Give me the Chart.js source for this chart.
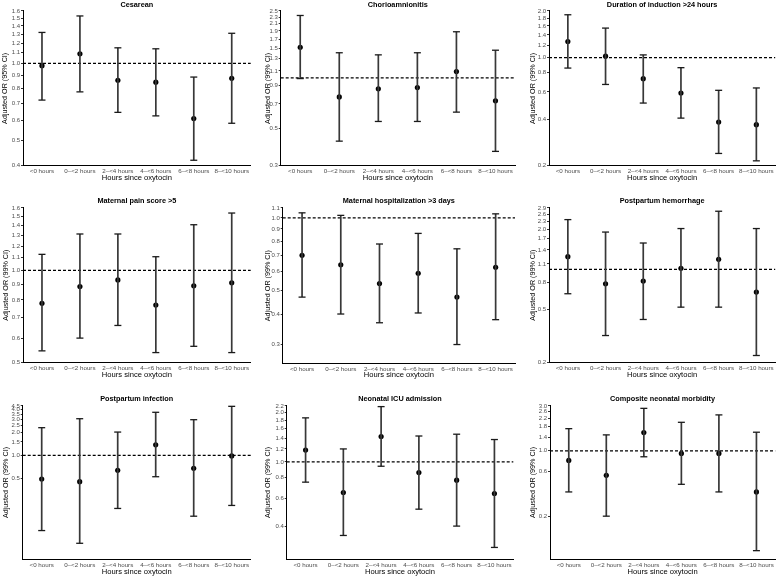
<!DOCTYPE html>
<html lang="en">
<head>
<meta charset="UTF-8">
<title>Adjusted OR by hours since oxytocin</title>
<script src="https://cdn.jsdelivr.net/npm/chart.js"></script>
<style>
  body { margin: 0; background: #fff; }
  #grid { position: relative; width: 780px; height: 579px; }
  .panel { position: absolute; width: 260px; height: 193px; }
</style>
</head>
<body>
<div id="grid"></div>
<script>
// categories on the x axis
const hours = ['<0 hours', '0–<2 hours', '2–<4 hours', '4–<6 hours', '6–<8 hours', '8–<10 hours'];

// odds ratios and interval ends
const cesareanOR = [0.98, 1.09, 0.86, 0.845, 0.61, 0.875];
const cesareanLo = [0.72, 0.775, 0.645, 0.625, 0.42, 0.585];
const cesareanHi = [1.32, 1.53, 1.15, 1.14, 0.885, 1.31];
const cesareanTicks = [0.4, 0.5, 0.6, 0.7, 0.8, 0.9, 1.0, 1.1, 1.2, 1.3, 1.4, 1.5, 1.6];

const chorioOR = [1.52, 0.77, 0.86, 0.875, 1.09, 0.73];
const chorioLo = [0.99, 0.42, 0.55, 0.55, 0.625, 0.365];
const chorioHi = [2.35, 1.41, 1.37, 1.41, 1.88, 1.46];
const chorioTicks = [0.3, 0.5, 0.7, 0.9, 1.1, 1.3, 1.5, 1.7, 1.9, 2.1, 2.3, 2.5];

const durationOR = [1.27, 1.02, 0.73, 0.59, 0.383, 0.368];
const durationLo = [0.855, 0.67, 0.508, 0.406, 0.24, 0.215];
const durationHi = [1.89, 1.55, 1.04, 0.86, 0.614, 0.636];
const durationTicks = [0.2, 0.4, 0.6, 0.8, 1.0, 1.2, 1.4, 1.6, 1.8, 2.0];

const painOR = [0.78, 0.885, 0.93, 0.77, 0.89, 0.91];
const painLo = [0.545, 0.60, 0.66, 0.538, 0.564, 0.538];
const painHi = [1.128, 1.315, 1.315, 1.108, 1.41, 1.54];
const painTicks = [0.5, 0.6, 0.7, 0.8, 0.9, 1.0, 1.1, 1.2, 1.3, 1.4, 1.5, 1.6];

const hospOR = [0.70, 0.64, 0.535, 0.59, 0.47, 0.625];
const hospLo = [0.47, 0.40, 0.368, 0.404, 0.299, 0.379];
const hospHi = [1.05, 1.025, 0.78, 0.863, 0.745, 1.04];
const hospTicks = [0.3, 0.4, 0.5, 0.6, 0.7, 0.8, 0.9, 1.0, 1.1];

const hemOR = [1.246, 0.78, 0.817, 1.02, 1.19, 0.675];
const hemLo = [0.656, 0.318, 0.42, 0.52, 0.52, 0.225];
const hemHi = [2.37, 1.91, 1.58, 2.03, 2.74, 2.03];
const hemTicks = [0.2, 0.5, 0.8, 1.1, 1.4, 1.7, 2.0, 2.3, 2.6, 2.9];

const infOR = [0.485, 0.447, 0.633, 1.376, 0.673, 0.982];
const infLo = [0.1007, 0.0683, 0.1976, 0.52, 0.156, 0.2166];
const infHi = [2.32, 3.05, 2.03, 3.71, 2.96, 4.45];
const infTicks = [0.5, 1.0, 1.5, 2.0, 2.5, 3.0, 3.5, 4.0, 4.5];

const nicuOR = [1.18, 0.649, 1.43, 0.86, 0.772, 0.64];
const nicuLo = [0.751, 0.354, 0.94, 0.513, 0.404, 0.299];
const nicuHi = [1.86, 1.20, 2.18, 1.44, 1.477, 1.37];
const nicuTicks = [0.4, 0.6, 0.8, 1.0, 1.2, 1.4, 1.6, 1.8, 2.0, 2.2];

const compOR = [0.79, 0.548, 1.564, 0.937, 0.937, 0.365];
const compLo = [0.365, 0.2016, 0.864, 0.44, 0.365, 0.0866];
const compHi = [1.72, 1.477, 2.83, 2.01, 2.41, 1.577];
const compTicks = [0.2, 0.6, 1.0, 1.4, 1.8, 2.2, 2.6, 3.0];

Chart.defaults.font.family = '"Liberation Sans", Arial, sans-serif';

// row spacing (title padding, x title padding)
const rows = [
  { y0: 0,   tTop: 0.6, tBot: 1.6, xPad: 10.2, tickPad: 2.3 },
  { y0: 193, tTop: 3.6, tBot: 2.6, xPad: 6.5,  tickPad: 2.3 },
  { y0: 386, tTop: 8.6, tBot: 2.6, xPad: 2.2,  tickPad: 2.6 }
];

const panels = [
  { row: 0, x0: 0,   left: 23,   right: 250.7, bottom: 165.7, yt: 5,    title: 'Cesarean', ci: '95%', or: cesareanOR, lo: cesareanLo, hi: cesareanHi, ticks: cesareanTicks, min: 0.4, max: 1.6 },
  { row: 0, x0: 260, left: 20.7, right: 255,   bottom: 165.7, yt: 7.6,  title: 'Chorioamnionitis', ci: '99%', or: chorioOR, lo: chorioLo, hi: chorioHi, ticks: chorioTicks, min: 0.3, max: 2.5 },
  { row: 0, x0: 520, left: 29,   right: 258,   bottom: 165.7, yt: 12.7, title: 'Duration of induction >24 hours', ci: '99%', or: durationOR, lo: durationLo, hi: durationHi, ticks: durationTicks, min: 0.2, max: 2.0 },
  { row: 1, x0: 0,   left: 23,   right: 250.7, bottom: 169.3, yt: 5.6,  title: 'Maternal pain score >5', ci: '99%', or: painOR, lo: painLo, hi: painHi, ticks: painTicks, min: 0.5, max: 1.6 },
  { row: 1, x0: 260, left: 22.7, right: 255,   bottom: 170.3, yt: 8,    title: 'Maternal hospitalization >3 days', ci: '99%', or: hospOR, lo: hospLo, hi: hospHi, ticks: hospTicks, min: 0.252, max: 1.1 },
  { row: 1, x0: 520, left: 29,   right: 256.7, bottom: 169.3, yt: 12.7, title: 'Postpartum hemorrhage', ci: '99%', or: hemOR, lo: hemLo, hi: hemHi, ticks: hemTicks, min: 0.2, max: 2.9 },
  { row: 2, x0: 0,   left: 22.7, right: 250.7, bottom: 173,   yt: 5.6,  title: 'Postpartum infection', ci: '99%', or: infOR, lo: infLo, hi: infHi, ticks: infTicks, min: 0.0423, max: 4.5 },
  { row: 2, x0: 260, left: 26.7, right: 253.3, bottom: 173,   yt: 8.3,  title: 'Neonatal ICU admission', ci: '99%', or: nicuOR, lo: nicuLo, hi: nicuHi, ticks: nicuTicks, min: 0.254, max: 2.2 },
  { row: 2, x0: 520, left: 30,   right: 256.7, bottom: 173,   yt: 13.3, title: 'Composite neonatal morbidity', ci: '99%', or: compOR, lo: compLo, hi: compHi, ticks: compTicks, min: 0.0706, max: 3.0 }
];

// dashed reference line at OR = 1
const refLine = {
  id: 'refLine',
  beforeDatasetsDraw(chart) {
    const { ctx, chartArea, scales: { y } } = chart;
    const py = y.getPixelForValue(1);
    ctx.save();
    ctx.setLineDash([3, 2]);
    ctx.lineWidth = 1.3;
    ctx.strokeStyle = '#000';
    ctx.beginPath();
    ctx.moveTo(chartArea.left, py);
    ctx.lineTo(chartArea.right, py);
    ctx.stroke();
    ctx.restore();
  }
};

const grid = document.getElementById('grid');

panels.forEach(p => {
  const row = rows[p.row];
  const wrap = document.createElement('div');
  wrap.className = 'panel';
  wrap.style.left = p.x0 + 'px';
  wrap.style.top = row.y0 + 'px';
  const cv = document.createElement('canvas');
  cv.width = 260;
  cv.height = 193;
  wrap.appendChild(cv);
  grid.appendChild(wrap);

  // one dataset per whisker: the line plus its two caps
  const whiskers = hours.map((h, i) => ({
    data: [{ x: i, y: p.lo[i] }, { x: i, y: p.hi[i] }],
    showLine: true,
    borderColor: '#383838',
    borderWidth: 1.7,
    pointStyle: 'line',
    pointRadius: 3.5,
    pointHoverRadius: 3.5,
    pointBorderColor: '#1a1a1a',
    pointBorderWidth: 1.3,
    clip: false
  }));
  const estimates = {
    data: hours.map((h, i) => ({ x: i, y: p.or[i] })),
    showLine: false,
    pointRadius: 2.6,
    pointHoverRadius: 2.6,
    pointBackgroundColor: '#000',
    pointBorderColor: '#000',
    pointBorderWidth: 0,
    clip: false
  };

  new Chart(cv, {
    type: 'scatter',
    data: { datasets: [...whiskers, estimates] },
    options: {
      responsive: false,
      animation: false,
      events: [],
      layout: { padding: { left: 0, right: 260 - p.right, top: 0, bottom: 0 } },
      plugins: {
        legend: { display: false },
        tooltip: { enabled: false },
        title: {
          display: true,
          fullSize: false,
          text: p.title,
          color: '#000',
          font: { size: 7.3, weight: 'bold' },
          padding: { top: row.tTop, bottom: row.tBot }
        }
      },
      scales: {
        x: {
          type: 'linear',
          min: -0.5,
          max: 5.5,
          afterBuildTicks: s => { s.ticks = hours.map((h, i) => ({ value: i })); },
          ticks: {
            callback: v => hours[v],
            autoSkip: false,
            maxRotation: 0,
            font: { size: 6.2 },
            color: '#4d4d4d',
            padding: row.tickPad
          },
          grid: { display: false, drawTicks: false },
          border: { display: true, color: '#000', width: 1 },
          title: {
            display: true,
            text: 'Hours since oxytocin',
            color: '#000',
            font: { size: 7.6 },
            padding: { top: 0, bottom: row.xPad }
          },
          afterFit: s => { s.height = 193 - p.bottom; }
        },
        y: {
          type: 'logarithmic',
          min: p.min,
          max: p.max,
          afterBuildTicks: s => { s.ticks = p.ticks.map(v => ({ value: v })); },
          ticks: {
            callback: v => Number(v).toFixed(1),
            autoSkip: false,
            font: { size: 6 },
            color: '#4d4d4d',
            padding: 0.8
          },
          grid: { display: true, drawOnChartArea: false, drawTicks: true, tickLength: 2, color: '#333' },
          border: { display: true, color: '#000', width: 1 },
          title: {
            display: true,
            text: 'Adjusted OR (' + p.ci + ' CI)',
            color: '#000',
            font: { size: 7.2 },
            padding: { top: p.yt - 4.3, bottom: 0 }
          },
          afterFit: s => { s.width = p.left; }
        }
      }
    },
    plugins: [refLine]
  });
});
</script>
</body>
</html>
